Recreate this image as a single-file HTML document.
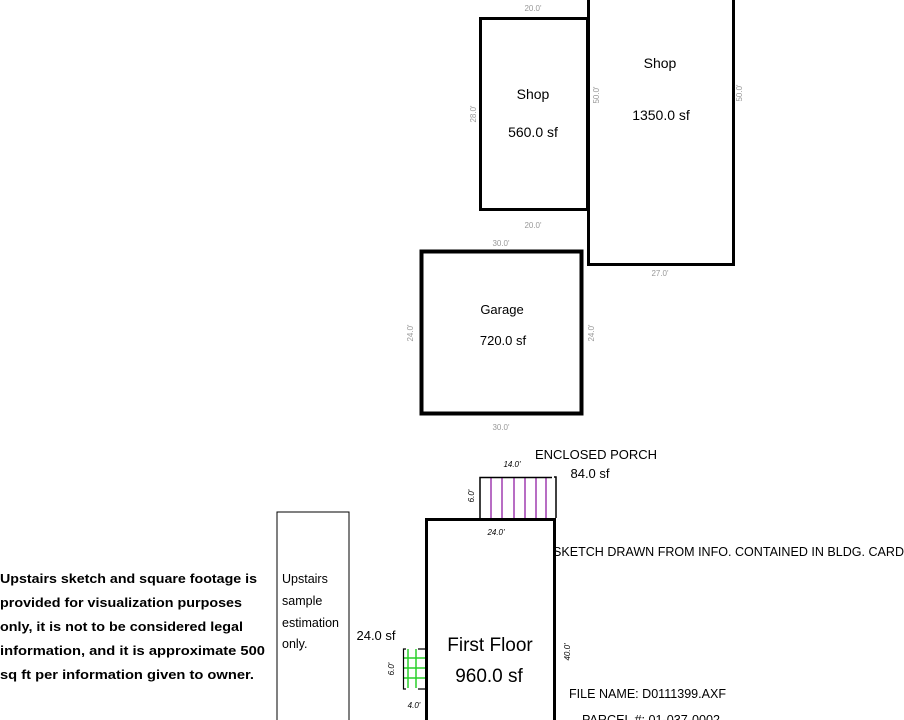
<!DOCTYPE html>
<html><head><meta charset="utf-8"><style>
html,body{margin:0;padding:0;background:#fff;width:904px;height:720px;overflow:hidden}
svg{display:block}
.c{font-family:"Liberation Sans",sans-serif}
</style></head><body>
<svg width="904" height="720" viewBox="0 0 904 720" xmlns="http://www.w3.org/2000/svg">
<g fill="none" stroke="#000">
<rect x="480.5" y="18.5" width="107" height="191" stroke-width="3"/>
<path d="M588.5 -5 V264.5 H733.5 V-5" stroke-width="3"/>
<rect x="421.5" y="251.5" width="160" height="162" stroke-width="4"/>
<rect x="426.5" y="519.5" width="128" height="220" stroke-width="3"/>
<rect x="277" y="512" width="72" height="220" stroke-width="1"/>
</g>
<g stroke="#a03cb0" stroke-width="1.5">
<line x1="491" y1="478" x2="491" y2="518"/><line x1="502" y1="478" x2="502" y2="518"/>
<line x1="514" y1="478" x2="514" y2="518"/><line x1="525" y1="478" x2="525" y2="518"/>
<line x1="536" y1="478" x2="536" y2="518"/><line x1="546" y1="478" x2="546" y2="518"/>
</g>
<path d="M480 518 V477.5 H552 M554 477 H556 V518" fill="none" stroke="#000" stroke-width="1.5"/>
<g stroke="#2ad02a" stroke-width="1.5">
<line x1="408" y1="649" x2="408" y2="688"/><line x1="416" y1="649" x2="416" y2="688"/>
<line x1="404" y1="658" x2="425" y2="658"/><line x1="404" y1="668" x2="425" y2="668"/><line x1="404" y1="678" x2="425" y2="678"/>
</g>
<path d="M406 649 H403.5 V689 H406 M418 649 H425 M418 689 H425" fill="none" stroke="#000" stroke-width="1.2"/>
<g class="c" fill="#000" text-anchor="middle">
<text x="533" y="99" font-size="14">Shop</text>
<text x="533" y="137" font-size="14">560.0 sf</text>
<text x="660" y="68" font-size="14">Shop</text>
<text x="661" y="120" font-size="14">1350.0 sf</text>
<text x="502" y="314" font-size="13">Garage</text>
<text x="503" y="345" font-size="13">720.0 sf</text>
<text x="490" y="651" font-size="19">First Floor</text>
<text x="489" y="682" font-size="19">960.0 sf</text>
<text x="596" y="459" font-size="13">ENCLOSED PORCH</text>
<text x="590" y="478" font-size="13">84.0 sf</text>
<text x="376" y="640" font-size="13">24.0 sf</text>
</g>
<g class="c" fill="#000" font-size="13">
<text x="553" y="556" textLength="351" lengthAdjust="spacingAndGlyphs">SKETCH DRAWN FROM INFO. CONTAINED IN BLDG. CARD</text>
<text x="569" y="698" textLength="157" lengthAdjust="spacingAndGlyphs">FILE NAME:  D0111399.AXF</text>
<text x="582" y="724" textLength="138" lengthAdjust="spacingAndGlyphs">PARCEL #:  01-037-0002</text>
</g>
<g class="c" fill="#999" font-size="8" text-anchor="middle">
<text x="533" y="11">20.0'</text>
<text x="533" y="228">20.0'</text>
<text x="501" y="246">30.0'</text>
<text x="501" y="430">30.0'</text>
<text x="660" y="276">27.0'</text>
<text transform="translate(476,114) rotate(-90)">28.0'</text>
<text transform="translate(599,95) rotate(-90)">50.0'</text>
<text transform="translate(742,93) rotate(-90)">50.0'</text>
<text transform="translate(413,333) rotate(-90)">24.0'</text>
<text transform="translate(594,333) rotate(-90)">24.0'</text>
</g>
<g class="c" fill="#000" font-size="8" font-style="italic" text-anchor="middle">
<text x="512" y="467">14.0'</text>
<text x="496" y="535">24.0'</text>
<text x="414" y="708">4.0'</text>
<text transform="translate(474,496) rotate(-90)">6.0'</text>
<text transform="translate(570,652) rotate(-90)">40.0'</text>
<text transform="translate(394,669) rotate(-90)">6.0'</text>
</g>
<g font-family="'Liberation Sans',sans-serif" fill="#000" font-size="12.5">
<text x="282" y="583">Upstairs</text>
<text x="282" y="605">sample</text>
<text x="282" y="627">estimation</text>
<text x="282" y="648">only.</text>
</g>
<g font-family="'Liberation Sans',sans-serif" fill="#000" font-size="13" font-weight="bold">
<text x="0" y="583" textLength="257" lengthAdjust="spacingAndGlyphs">Upstairs sketch and square footage is</text>
<text x="0" y="607" textLength="242" lengthAdjust="spacingAndGlyphs">provided for visualization purposes</text>
<text x="0" y="631" textLength="243" lengthAdjust="spacingAndGlyphs">only, it is not to be considered legal</text>
<text x="0" y="655" textLength="265" lengthAdjust="spacingAndGlyphs">information, and it is approximate 500</text>
<text x="0" y="679" textLength="254" lengthAdjust="spacingAndGlyphs">sq ft per information given to owner.</text>
</g>
</svg>
</body></html>
